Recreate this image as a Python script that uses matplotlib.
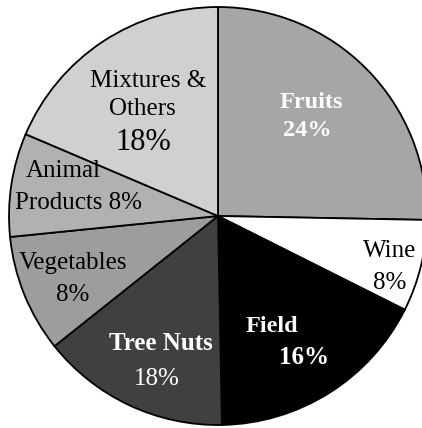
import matplotlib
matplotlib.use("Agg")
import matplotlib.pyplot as plt

# slices clockwise from 12 o'clock
categories = ["Fruits", "Wine", "Field", "Tree Nuts", "Vegetables",
              "Animal Products", "Mixtures & Others"]
label_pct = [24, 8, 16, 18, 8, 8, 18]
# share of the circle each wedge actually occupies in the drawing
drawn_share = [25.3, 7.1, 17.3, 14.6, 9.1, 8.0, 18.6]
colors = ["#a6a6a6", "#ffffff", "#000000", "#404040", "#9d9d9d",
          "#b1b1b1", "#d0d0d0"]

plt.rcParams["font.family"] = ["Liberation Serif", "DejaVu Serif"]

W, H = 422, 428
CX, CY, R = 218, 216, 209

fig = plt.figure(figsize=(W / 100, H / 100), dpi=100)
ax = fig.add_axes([0, 0, 1, 1])

ax.pie(drawn_share, colors=colors, startangle=90, counterclock=False,
       radius=1.0, wedgeprops=dict(edgecolor="black", linewidth=1.3))
ax.set_aspect("auto")
ax.set_xlim(-CX / R, (W - CX) / R)
ax.set_ylim(-(H - CY) / R, CY / R)
ax.axis("off")


def put(px, py, s, size, color="black", weight="normal"):
    ax.text((px - CX) / R, (CY - py) / R, s, fontsize=size, color=color,
            fontweight=weight, ha="center", va="center")


# labels (pixel positions from the reference)
put(311, 103, categories[0], 17.5, "white", "bold")
put(307, 131, f"{label_pct[0]}%", 17.5, "white", "bold")
put(390, 251, categories[1], 18)
put(390, 283, f"{label_pct[1]}%", 18)
put(272, 327, categories[2], 17.5, "white", "bold")
put(304, 358, f"{label_pct[2]}%", 18, "white", "bold")
put(161, 344, categories[3], 18, "white", "bold")
put(157, 379, f"{label_pct[3]}%", 18, "white")
put(73, 263, categories[4], 18)
put(73, 295, f"{label_pct[4]}%", 18)
put(63, 171, "Animal", 18)
put(79, 203, f"Products {label_pct[5]}%", 18)
put(148, 81, "Mixtures &", 18)
put(142, 109, "Others", 18)
put(143, 142, f"{label_pct[6]}%", 22)

fig.savefig("out.png", dpi=100)
